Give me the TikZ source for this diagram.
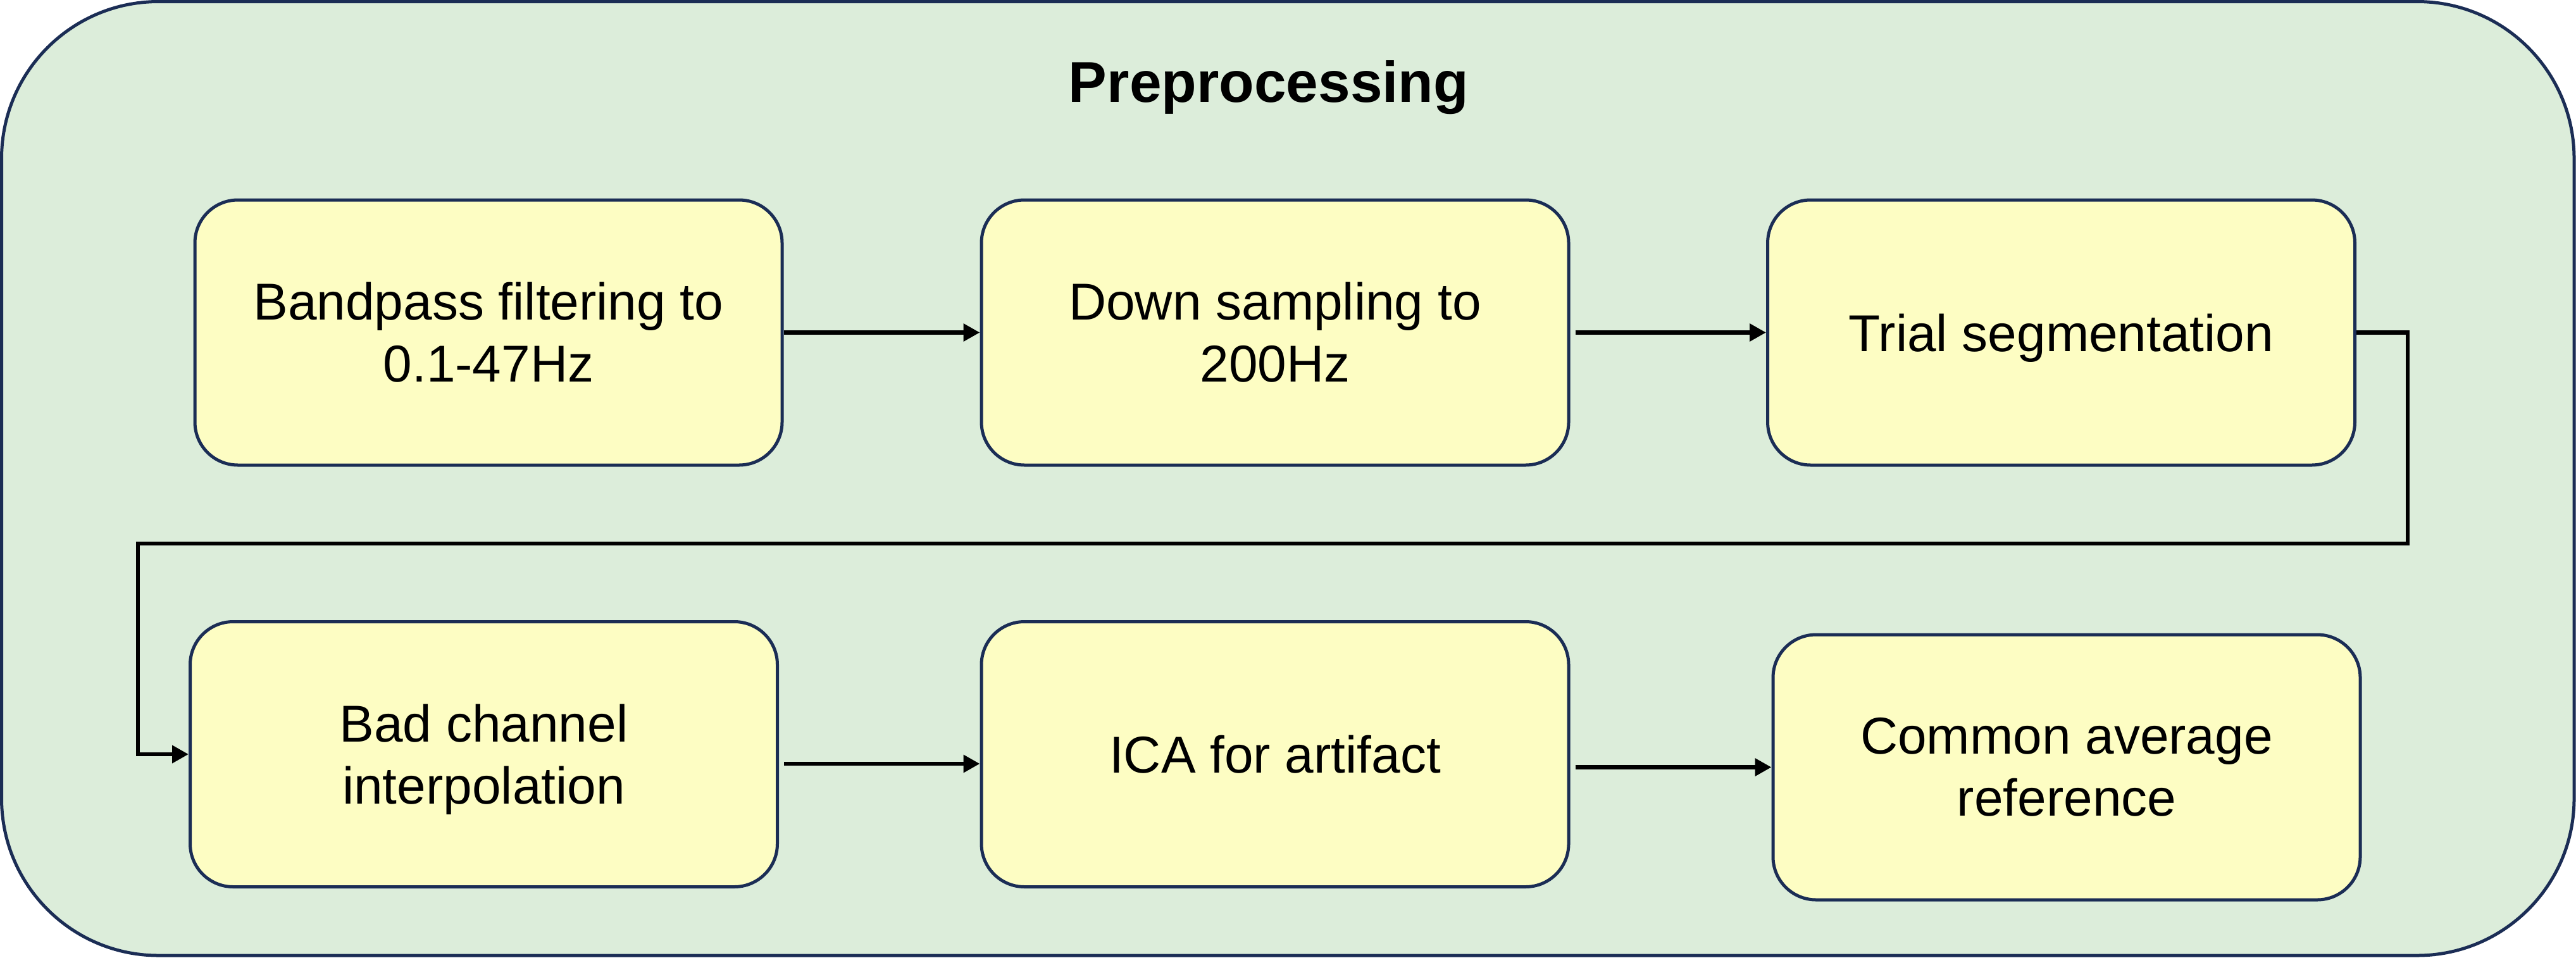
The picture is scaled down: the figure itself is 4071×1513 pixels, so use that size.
\documentclass[tikz,border=0pt]{standalone}
\usepackage{fontspec}
\setmainfont{Liberation Sans}
\usetikzlibrary{arrows.meta}
\definecolor{outerfill}{HTML}{DCEDDA}
\definecolor{boxfill}{HTML}{FDFDC3}
\definecolor{navy}{HTML}{1B2D55}
\newcommand{\nodepth}[1]{\raisebox{0pt}[\height][0pt]{#1}}
\tikzset{
  stepbox/.style={draw=navy, fill=boxfill, line width=5pt, rounded corners=68pt,
    minimum width=928pt, minimum height=419pt, inner sep=0pt, align=center,
    font=\fontsize{82}{98}\selectfont},
  arr/.style={draw=black, line width=6.5pt, -{Triangle[length=26pt,width=27pt]}},
  titletext/.style={font=\fontsize{91}{109}\selectfont\bfseries, anchor=base, inner sep=0pt}
}
\begin{document}
\begin{tikzpicture}[x=1pt,y=-1pt]
\useasboundingbox (0,0) rectangle (4071,1513);
\draw[draw=navy, fill=outerfill, line width=5pt, rounded corners=248pt] (2.5,2.5) rectangle (4068,1510);
\node[titletext] (title) at (2005,161) {Preprocessing};
\node[stepbox] (b1) at (772,525.5) {Bandpass filtering to\\0.1-47Hz};
\node[stepbox] (b2) at (2015,525.5) {Down sampling to\\200Hz};
\node[stepbox] (b3) at (3257.5,525.5) {\nodepth{Trial segmentation}};
\node[stepbox] (b4) at (764.5,1192) {Bad channel\\\nodepth{interpolation}};
\node[stepbox] (b5) at (2015,1192) {ICA for artifact};
\node[stepbox] (b6) at (3266,1212.5) {\raisebox{-6pt}{Common average}\\\raisebox{-6pt}{reference}};
\coordinate (t1) at (3805,859);
\coordinate (t2) at (218,859);
\draw[arr] (b1) -- (b2);
\draw[arr, shorten <=8pt] (b2) -- (b3);
\draw[arr] (b3.east) -| (t1) -- (t2) |- (b4.west);
\draw[arr, shorten <=8pt] ([yshift=-15pt]b4.east) -- ([yshift=-15pt]b5.west);
\draw[arr, shorten <=8pt] (b5.east |- b6.west) -- (b6.west);
\end{tikzpicture}
\end{document}
